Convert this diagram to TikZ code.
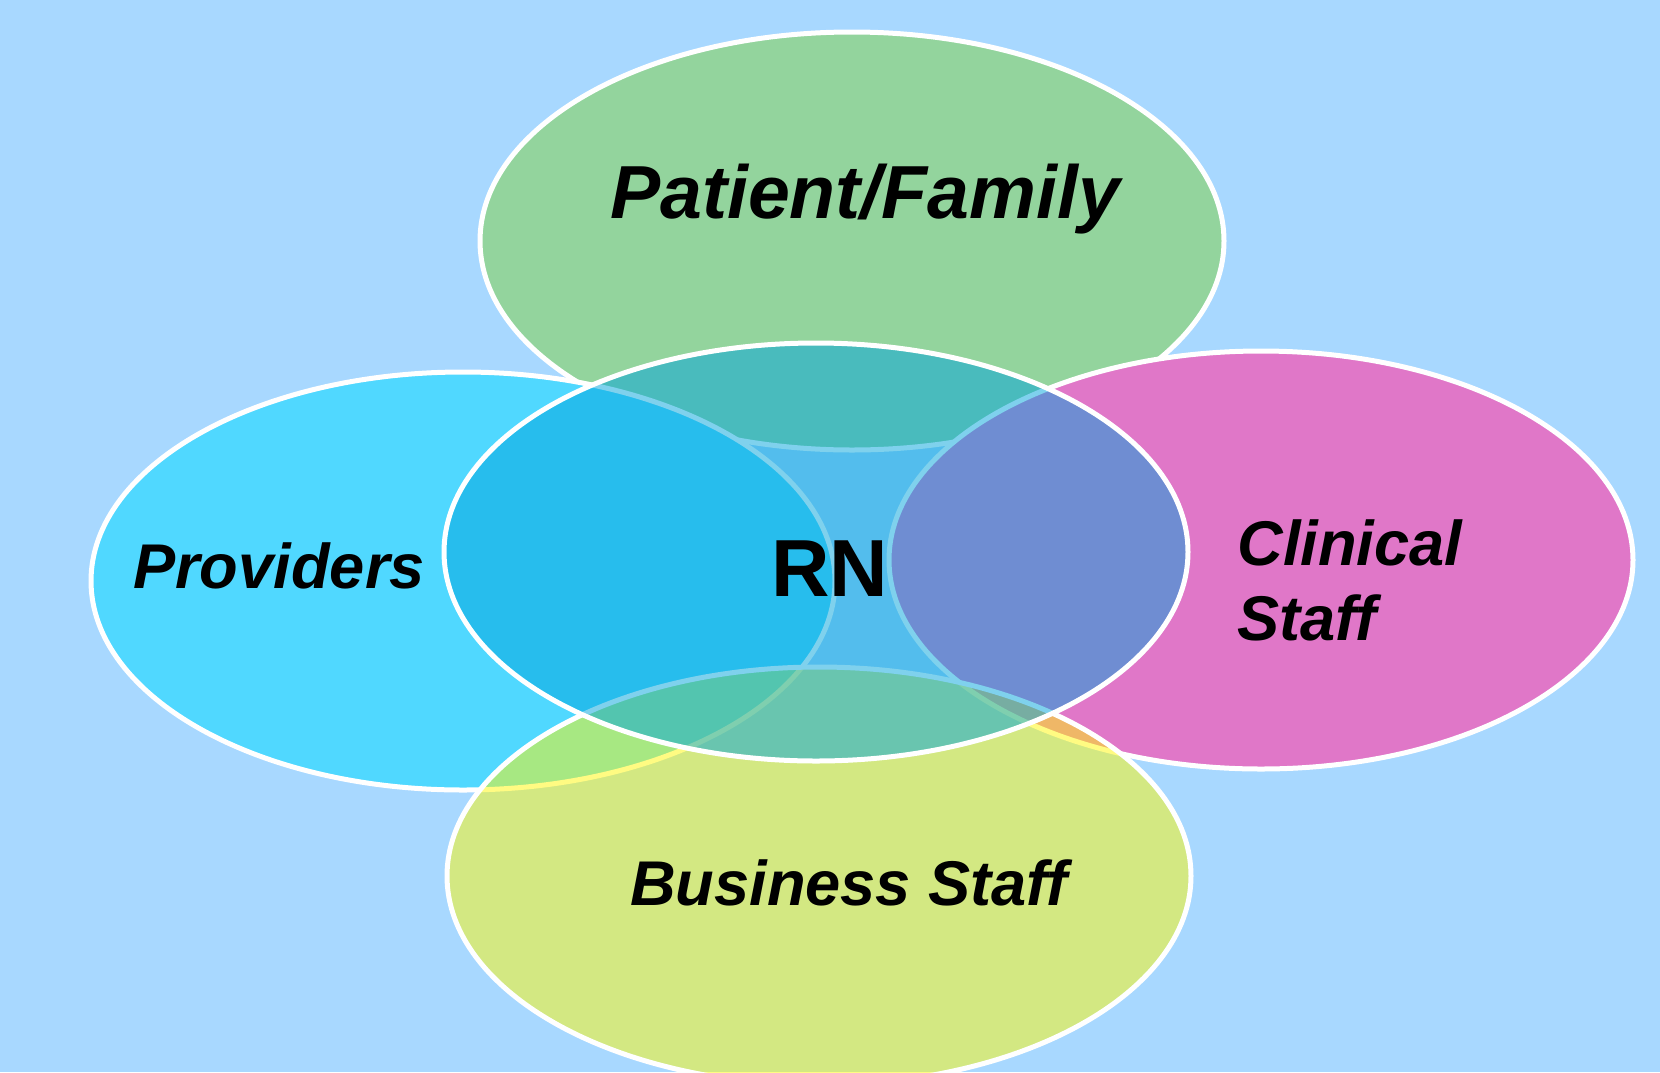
\documentclass[tikz,border=0pt]{standalone}
\usepackage{fontspec}
\setmainfont{Liberation Sans}
\usetikzlibrary{shapes.geometric}
\definecolor{bgblue}{RGB}{168,216,255}
\definecolor{patientgreen}{RGB}{147,212,157}
\definecolor{provcyan}{RGB}{80,216,255}
\definecolor{clinmag}{RGB}{224,119,200}
\definecolor{busyellow}{RGB}{255,248,7}
\definecolor{rnblue}{RGB}{0,164,221}
\tikzset{
  blob/.style={ellipse, draw=white, line width=2.5pt, inner sep=0pt,
    minimum width=372pt, minimum height=209pt},
  lbl/.style={inner sep=0pt, text=black, font=\fontsize{31.6}{37.5}\selectfont\bfseries\itshape},
}
\begin{document}
\begin{tikzpicture}[x=0.5pt,y=-0.5pt]
\clip (0,0) rectangle (1660,1072);
\fill[bgblue] (0,0) rectangle (1660,1072);
\node[blob, fill=patientgreen] (patient) at (852,241) {};
\node[blob, fill=provcyan] (providers) at (463,581) {};
\node[blob, fill=clinmag] (clinical) at (1261,560) {};
\node[blob, fill=busyellow, fill opacity=0.5] (business) at (819,876) {};
\node[blob, fill=rnblue, fill opacity=0.5] (rn) at (816,552) {};
\node[lbl, anchor=base, font=\fontsize{37.6}{44}\selectfont\bfseries\itshape] (tpatient) at (865,218) {Patient/Family};
\node[lbl, anchor=base] (tproviders) at (279,588) {Providers};
\node[lbl, anchor=base] (tbusiness) at (849,905) {Business Staff};
\node[lbl, anchor=base west, align=left] (tclinical) at (1237,640) {Clinical\\Staff};
\node[inner sep=0pt, anchor=base, font=\fontsize{40.5}{48}\selectfont\bfseries] (trn) at (830,596) {RN};
\end{tikzpicture}
\end{document}
